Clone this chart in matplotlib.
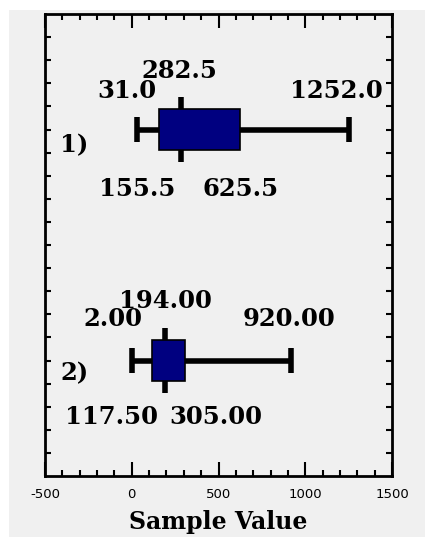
import matplotlib
matplotlib.use("Agg")
import matplotlib.pyplot as plt
from matplotlib.patches import Rectangle
from matplotlib.ticker import MultipleLocator
import matplotlib.transforms as mtransforms

# Five-number summaries for the two samples
sample_names = ["1)", "2)"]
sample_pos = [5, 15]
minimum = [31.0, 2.00]
q1 = [155.5, 117.50]
median = [282.5, 194.00]
q3 = [625.5, 305.00]
maximum = [1252.0, 920.00]
label_fmt = ["{:.1f}", "{:.2f}"]

x_ticks = [-500, 0, 500, 1000, 1500]
x_label = "Sample Value"

BG = "#f0f0f0"
NAVY = "#000080"

fig = plt.figure(figsize=(4.25, 5.37), dpi=100, facecolor="white")
# grey panel behind the plot
fig.patches.append(Rectangle((9 / 425, 0), 1, 1 - 10 / 537, transform=fig.transFigure,
                             facecolor=BG, edgecolor="none", zorder=-10))

ax = fig.add_axes([45 / 425, 1 - 476 / 537, 347 / 425, 462 / 537])
ax.set_zorder(1)
ax.set_facecolor(BG)
ax.set_xlim(-500, 1500)
ax.set_ylim(20, 0)

for s in ax.spines.values():
    s.set_linewidth(2)

ax.set_xticks(x_ticks)
ax.set_xticklabels([str(t) for t in x_ticks], fontsize=9.5, family="DejaVu Sans")
ax.xaxis.set_minor_locator(MultipleLocator(100))
ax.set_yticks(range(1, 20))
ax.set_yticklabels([])
ax.tick_params(axis="x", which="major", direction="in", length=10, width=1.5,
               top=True, bottom=True, pad=9)
ax.tick_params(axis="x", which="minor", direction="in", length=4, width=1.5,
               top=True, bottom=True)
ax.tick_params(axis="y", which="major", direction="in", length=4, width=1.5,
               left=True, right=True)

ax.set_xlabel(x_label, fontsize=17, family="DejaVu Serif", fontweight="bold", labelpad=6)

box_half = 0.89
med_half = 1.4
cap_half = 0.54
txt_kw = dict(textcoords="offset pixels", ha="center", va="center",
              fontsize=17.5, family="DejaVu Serif", fontweight="bold", color="black")

# per-label pixel offsets (x, y) relative to the value on the axis (y up)
offsets = [
    {"min": (-10, 39), "max": (-13, 39), "med": (-1, 59), "q1": (-22, -59), "q3": (0, -59)},
    {"min": (-19, 41), "max": (-2, 41), "med": (0, 60), "q1": (-41, -56), "q3": (31, -56)},
]
name_dy = [-16, -13]

for i, y in enumerate(sample_pos):
    # whisker line
    ax.plot([minimum[i], maximum[i]], [y, y], color="black", lw=4, solid_capstyle="butt", zorder=2)
    # caps
    for v in (minimum[i], maximum[i]):
        ax.plot([v, v], [y - cap_half, y + cap_half], color="black", lw=4,
                solid_capstyle="butt", zorder=2)
    # median bar
    ax.plot([median[i], median[i]], [y - med_half, y + med_half], color="black", lw=4,
            solid_capstyle="butt", zorder=2)
    # box
    ax.add_patch(Rectangle((q1[i], y - box_half), q3[i] - q1[i], 2 * box_half,
                           facecolor=NAVY, edgecolor="black", lw=1.2, zorder=3))

    off = offsets[i]
    fmt = label_fmt[i]
    for key, v in (("min", minimum[i]), ("max", maximum[i]), ("med", median[i]),
                   ("q1", q1[i]), ("q3", q3[i])):
        ax.annotate(fmt.format(v), (v, y), xytext=off[key], annotation_clip=False, **txt_kw)

    # sample name on the left
    trans = mtransforms.blended_transform_factory(ax.transAxes, ax.transData)
    ax.annotate(sample_names[i], (0.0836, y), xycoords=trans, xytext=(0, name_dy[i]),
                **txt_kw)

fig.savefig("out.png", dpi=100, facecolor="white")
